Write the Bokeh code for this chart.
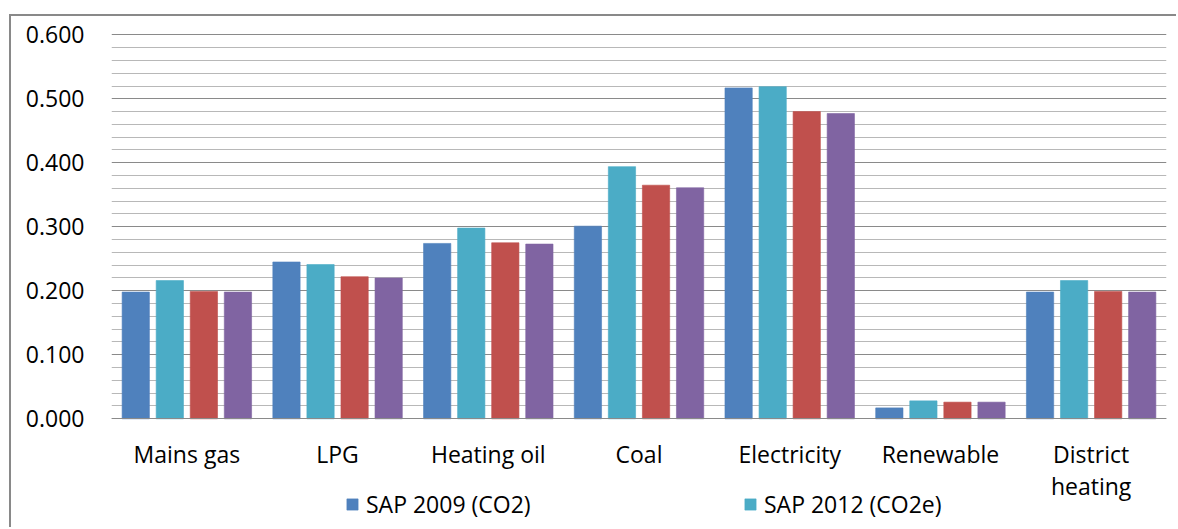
from bokeh.plotting import figure
from bokeh.models import (ColumnDataSource, Range1d, NumeralTickFormatter,
                          Legend, LegendItem, FixedTicker, LinearAxis, CustomJSTickFormatter)
from bokeh.transform import dodge
from bokeh.embed import file_html
from bokeh.resources import INLINE

categories = ["Mains gas", "LPG", "Heating oil", "Coal", "Electricity", "Renewable", "District heating"]
sap2009_co2 = [0.198, 0.245, 0.274, 0.301, 0.517, 0.017, 0.198]
sap2012_co2e = [0.216, 0.241, 0.298, 0.394, 0.519, 0.028, 0.216]
series3 = [0.199, 0.222, 0.275, 0.365, 0.480, 0.026, 0.199]
series4 = [0.198, 0.220, 0.273, 0.361, 0.477, 0.026, 0.198]
legend_labels = ["SAP 2009 (CO2)", "SAP 2012 (CO2e)"]
major_ticks = [0.0, 0.1, 0.2, 0.3, 0.4, 0.5, 0.6]
minor_ticks = [0.02, 0.04, 0.06, 0.08, 0.12, 0.14, 0.16, 0.18, 0.22, 0.24, 0.26, 0.28,
               0.32, 0.34, 0.36, 0.38, 0.42, 0.44, 0.46, 0.48, 0.52, 0.54, 0.56, 0.58]
colors = ["#4F81BD", "#4BACC6", "#C0504D", "#8064A2"]

# category slot centres on a numeric axis (slot i spans i..i+1)
xpos = [i + 0.5 for i in range(len(categories))]

src = ColumnDataSource(dict(x=xpos, cat=categories, s1=sap2009_co2, s2=sap2012_co2e,
                            s3=series3, s4=series4))

FONT = "Open Sans"
FS = "23px"

p = figure(x_range=Range1d(0, len(categories)), y_range=Range1d(-0.173, 0.6036),
           width=1167, height=513, output_backend="svg", toolbar_location=None,
           x_axis_location=None,
           min_border_left=100, min_border_top=16, min_border_right=12, min_border_bottom=0)
p.margin = (14, 0, 0, 9)
p.styles = {"border-top": "2px solid #898989", "border-left": "2px solid #898989"}
p.outline_line_color = None

offsets = [-0.339, -0.113, 0.113, 0.339]
keys = ["s1", "s2", "s3", "s4"]
renderers = []
for k, off, c in zip(keys, offsets, colors):
    r = p.vbar(x=dodge("x", off), top=k, width=0.181, source=src,
               fill_color=c, line_color=c, line_alpha=0.6)
    renderers.append(r)

ticker = FixedTicker(ticks=major_ticks, minor_ticks=minor_ticks)

# grid
p.xgrid.grid_line_color = None
p.ygrid.ticker = ticker
p.ygrid.grid_line_color = "#8a8a8a"
p.ygrid.grid_line_width = 1
p.ygrid.minor_grid_line_color = "#b8b8b8"
p.ygrid.minor_grid_line_width = 1

# y axis
p.yaxis.ticker = ticker
p.yaxis.formatter = NumeralTickFormatter(format="0.000")
p.yaxis.axis_line_color = None
p.yaxis.major_tick_line_color = None
p.yaxis.minor_tick_line_color = None
p.yaxis.major_label_standoff = 21
p.yaxis.major_label_text_font = FONT
p.yaxis.major_label_text_font_size = FS
p.yaxis.major_label_text_color = "#000000"

# category labels; "District heating" wraps onto two lines
line1 = []
line2 = []
for c in categories:
    if c == "District heating":
        w = c.split(" ")
        line1.append(w[0])
        line2.append(" ".join(w[1:]))
    else:
        line1.append(c)
        line2.append("")

JS = "const i = Math.round(tick - 0.5); const s = labels[i]; return (s === undefined) ? '' : s;"

xa = LinearAxis(fixed_location=0, ticker=FixedTicker(ticks=xpos, minor_ticks=[]),
                formatter=CustomJSTickFormatter(args=dict(labels=line1), code=JS),
                axis_line_color="#8a8a8a",
                major_tick_line_color=None, minor_tick_line_color=None,
                major_label_standoff=13, major_label_text_font=FONT,
                major_label_text_font_size=FS, major_label_text_color="#000000")
p.add_layout(xa, "below")
xa2 = LinearAxis(fixed_location=0, ticker=FixedTicker(ticks=xpos, minor_ticks=[]),
                 formatter=CustomJSTickFormatter(args=dict(labels=line2), code=JS),
                 axis_line_color=None,
                 major_tick_line_color=None, minor_tick_line_color=None,
                 major_label_standoff=45, major_label_text_font=FONT,
                 major_label_text_font_size=FS, major_label_text_color="#000000")
p.add_layout(xa2, "below")

legend = Legend(items=[LegendItem(label=legend_labels[0], renderers=[renderers[0]]),
                       LegendItem(label=legend_labels[1], renderers=[renderers[1]])],
                orientation="horizontal", location=(234, 9), glyph_width=14, glyph_height=14,
                label_standoff=7, label_width=377, spacing=0, padding=0, margin=0,
                label_text_font=FONT, label_text_font_size=FS, label_text_color="#000000",
                border_line_color=None, background_fill_alpha=0)
p.add_layout(legend, "center")

open("out.html", "w").write(file_html(p, INLINE))
